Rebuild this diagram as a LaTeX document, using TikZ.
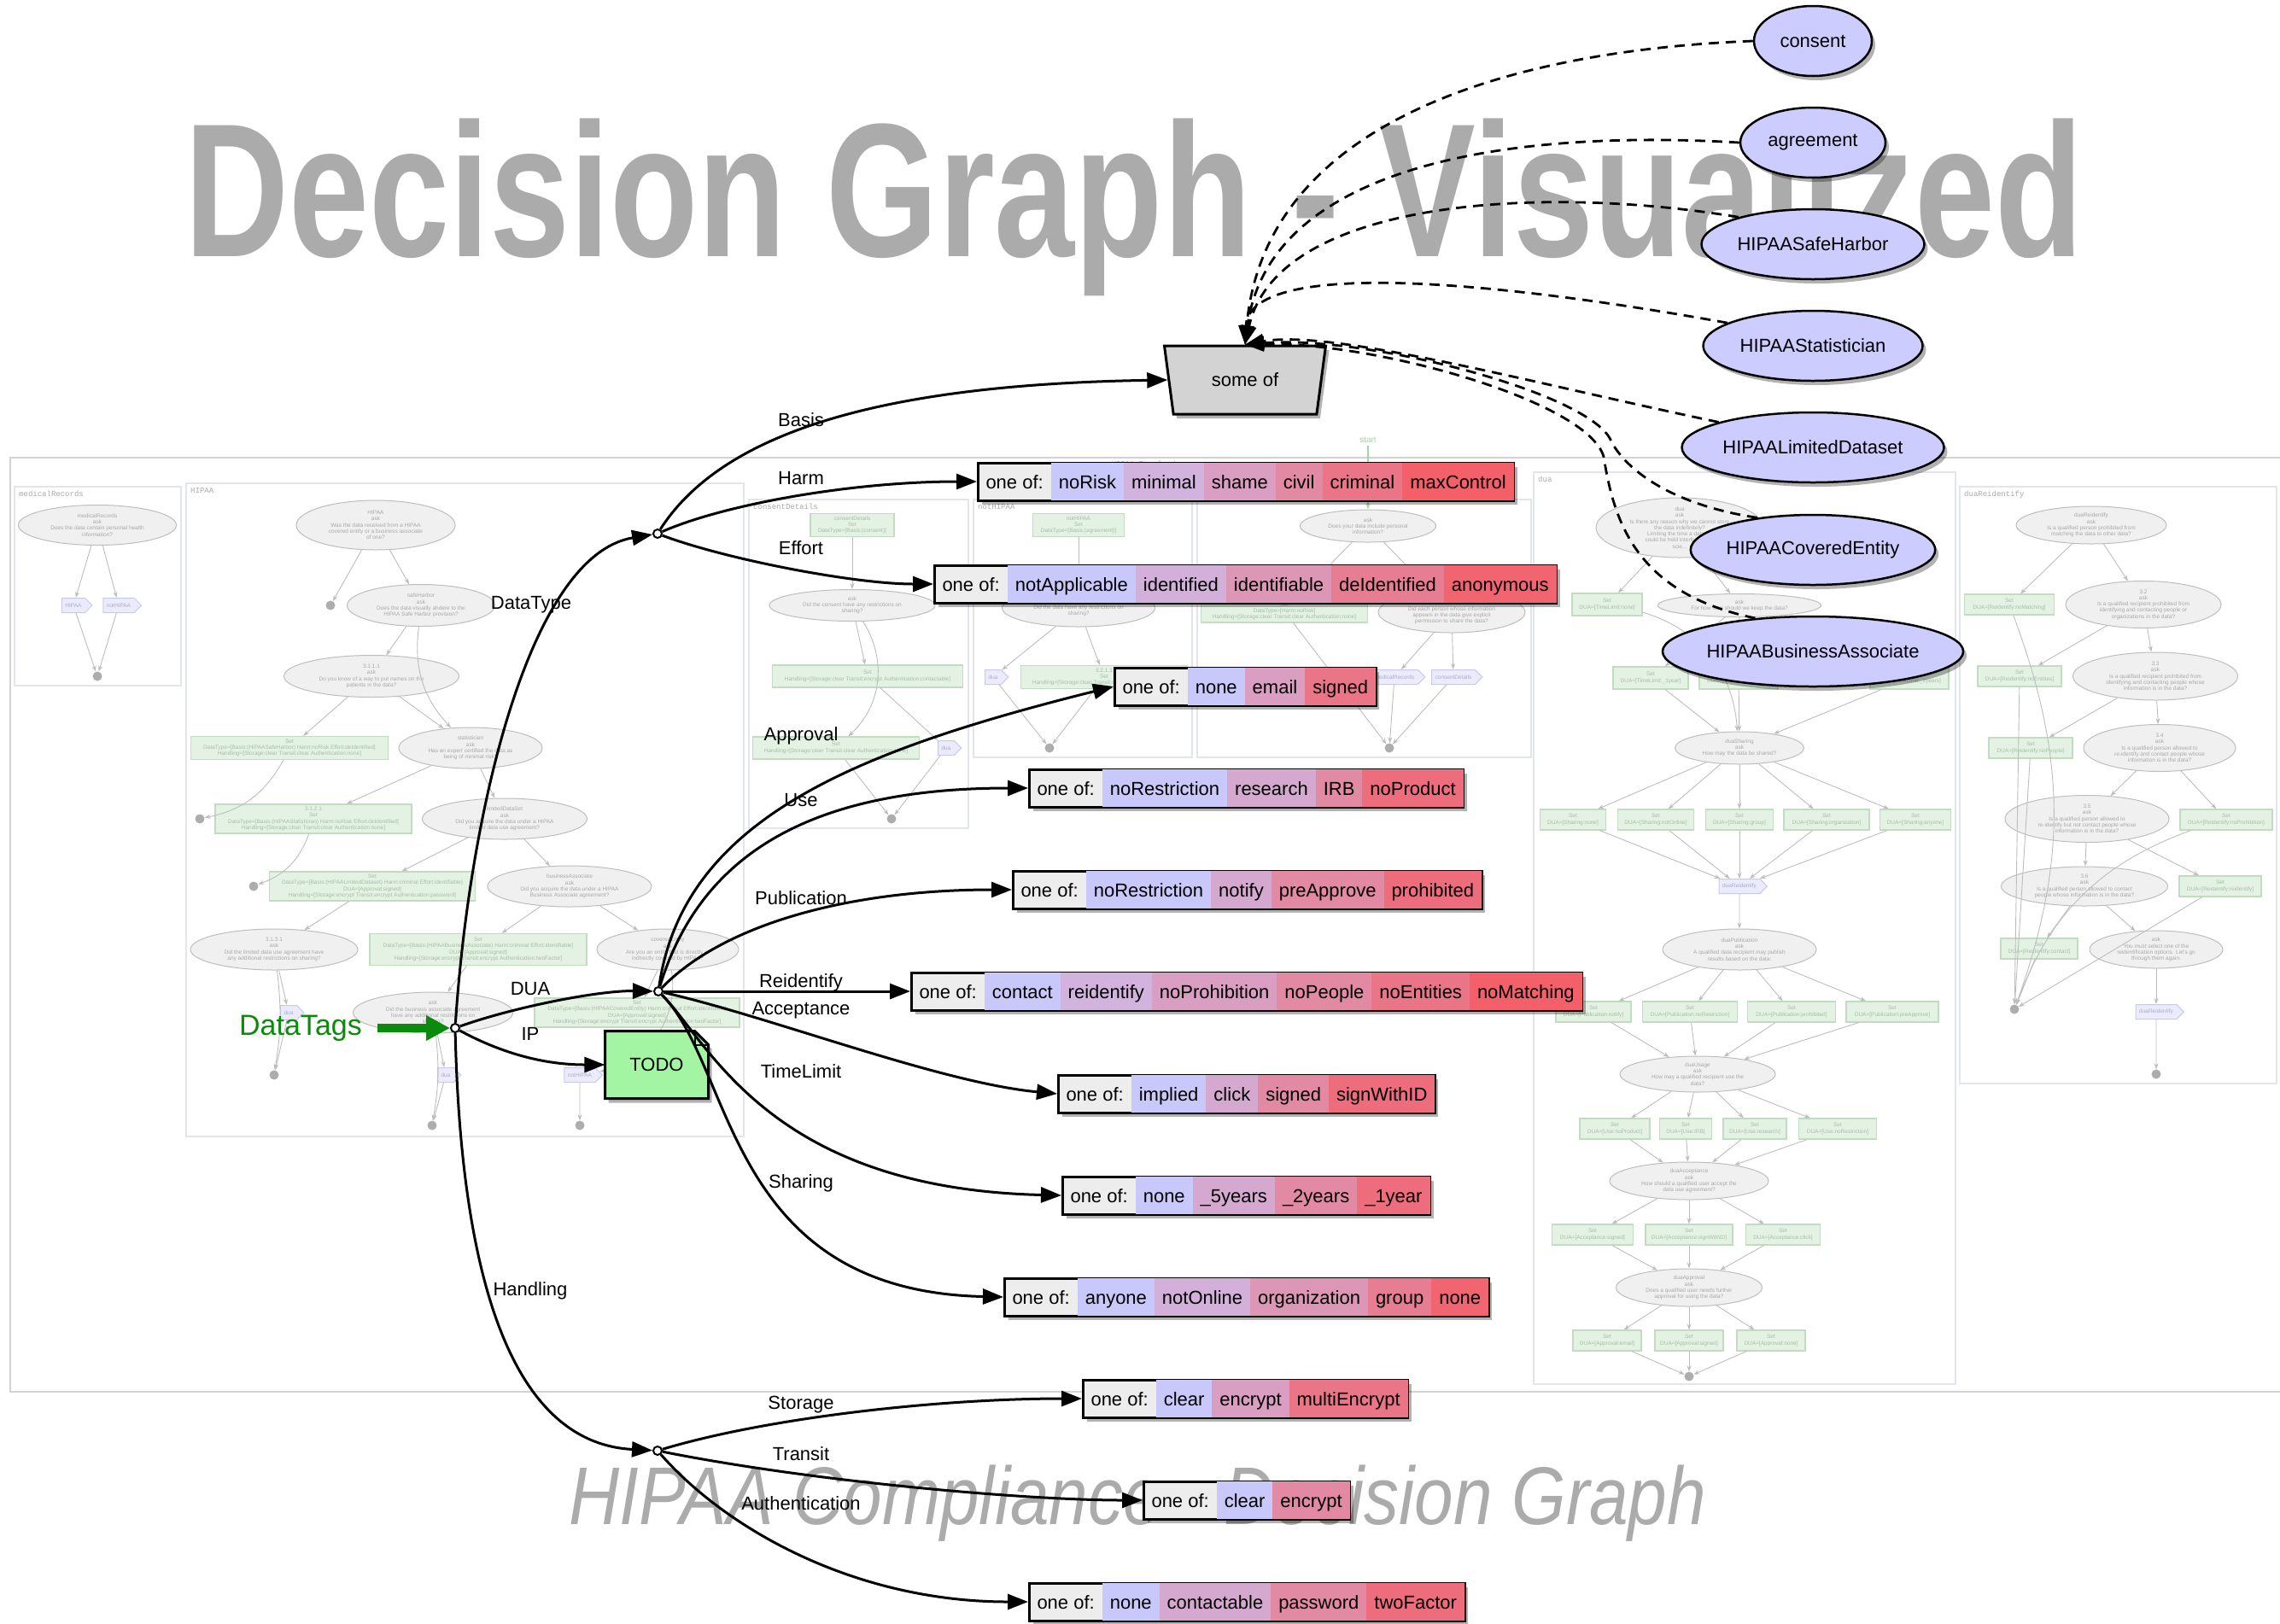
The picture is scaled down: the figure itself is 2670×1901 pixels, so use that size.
\documentclass[tikz,border=0pt]{standalone}
\usepackage{fontspec}
\usepackage{graphicx}
\setmainfont{Liberation Sans}
\setmonofont{Liberation Mono}
\usetikzlibrary{arrows.meta,shapes.geometric,shapes.symbols,shadows,calc}

% palette
\definecolor{cool}{HTML}{C8C8FA}
\definecolor{hot}{HTML}{F3606A}
\definecolor{oneof}{HTML}{EDEDED}
\definecolor{titlegray}{HTML}{ABABAB}
\definecolor{egg}{HTML}{CCCCFF}
\definecolor{someoffill}{HTML}{D3D3D3}
\definecolor{notegreen}{HTML}{A3F5A3}
\definecolor{tagsgreen}{HTML}{0B8A0B}
\definecolor{bgline}{HTML}{BDBDBD}
\definecolor{bgfill}{HTML}{F0F0F0}
\definecolor{bgtext}{HTML}{A9A9A9}
\definecolor{bgdot}{HTML}{ADADAD}
\definecolor{setfill}{HTML}{E4F2E4}
\definecolor{setline}{HTML}{C2DCC2}
\definecolor{settext}{HTML}{A6BEA6}
\definecolor{cdsfill}{HTML}{EBEBFB}
\definecolor{cdsline}{HTML}{C9C9EE}
\definecolor{cdstext}{HTML}{ABABD2}
\definecolor{frameline}{HTML}{E3E5EE}
\definecolor{outerline}{HTML}{D2D2D2}
\definecolor{startgreen}{HTML}{A2D6A2}

% record cells
\setlength{\fboxsep}{0pt}
\newcommand{\rcell}[2]{\colorbox{#1}{\rule[-14pt]{0pt}{44pt}\hspace{9pt}#2\hspace{9pt}}}
\newcommand{\ocell}{\rule[-14pt]{0pt}{44pt}\hspace{9pt}one of:\hspace{9pt}}

\tikzset{
  softshadow/.style={drop shadow={shadow xshift=4pt, shadow yshift=-5pt, opacity=0.3, fill=black}},
  rec/.style={draw, line width=3pt, inner sep=0pt, fill=oneof, anchor=west,
    font=\fontsize{22}{26}\selectfont, softshadow},
  eggnode/.style={ellipse, draw, line width=2.5pt, fill=egg, minimum height=82pt,
    inner sep=0pt, font=\fontsize{22}{26}\selectfont, softshadow},
  someofbox/.style={trapezium, trapezium angle=65, shape border rotate=180,
    trapezium stretches body, minimum width=189pt, minimum height=80pt, draw,
    line width=3pt, fill=someoffill, font=\fontsize{22}{26}\selectfont, softshadow},
  pt/.style={circle, draw, fill=white, line width=2pt, inner sep=0pt, minimum size=10pt},
  lbl/.style={font=\fontsize{22}{26}\selectfont, inner sep=1pt},
  fg/.style={line width=3pt, -{Triangle[length=24pt,width=18pt]}},
  dep/.style={line width=2.8pt, dash pattern=on 12pt off 8pt, -{Triangle[length=22pt,width=17pt]}},
  tagarrow/.style={draw=tagsgreen, line width=10pt, shorten <=16pt, -{Triangle[length=28pt,width=28pt]}},
  % faint background graph
  bgask/.style 2 args={ellipse, draw=bgline, line width=1pt, fill=bgfill, text=bgtext,
    font=\fontsize{6.5}{7.3}\selectfont, align=center, inner sep=0pt,
    minimum width=#1, minimum height=#2},
  bgset/.style 2 args={rectangle, draw=setline, line width=1.2pt, fill=setfill, text=settext,
    font=\fontsize{6.5}{7.3}\selectfont, align=center, inner sep=1pt,
    minimum width=#1, minimum height=#2},
  bgcds/.style={signal, signal to=east, draw=cdsline, line width=1pt, fill=cdsfill,
    text=cdstext, font=\fontsize{6.5}{7.3}\selectfont, inner xsep=4pt, inner ysep=3pt,
    minimum height=17pt},
  bgend/.style={circle, fill=bgdot, minimum size=11pt, inner sep=0pt},
  bge/.style={draw=bgline, line width=0.9pt, -{Stealth[length=7pt,width=5pt]}},
  bgframe/.style={draw=frameline, line width=1.2pt},
  bgname/.style={font=\ttfamily\fontsize{9}{10}\selectfont, text=bgtext, anchor=north west, inner sep=0pt},
}

\begin{document}
\begin{tikzpicture}[x=1pt,y=-1pt]
\useasboundingbox (0,0) rectangle (2670,1901);

%================ background: the compiled decision graph =================
\draw[draw=outerline, line width=2pt] (2672,536) -- (12,536) -- (12,1630) -- (2672,1630);
\draw[bgframe] (17,570) rectangle (212,803);
\draw[bgframe] (218,566) rectangle (871,1331);
\draw[bgframe] (877,585) rectangle (1134,970);
\draw[bgframe] (1140,585) rectangle (1396,887);
\draw[bgframe] (1402,585) rectangle (1793,887);
\draw[bgframe] (1796,553) rectangle (2290,1621);
\draw[bgframe] (2295,570) rectangle (2666,1269);

\node[bgname] (lMR) at (22,575) {medicalRecords};
\node[bgname] (lH) at (223,571) {HIPAA};
\node[bgname] (lCD) at (882,590) {consentDetails};
\node[bgname] (lNH) at (1145,590) {notHIPAA};
\node[bgname] (lDua) at (1801,558) {dua};
\node[bgname] (lDR) at (2300,575) {duaReidentify};
\node[font=\ttfamily\fontsize{9}{10}\selectfont, text=bgtext] (lSample) at (1342,544) {HIPAA-Sample.dg};

% medicalRecords
\node[bgask={185}{47}] (mrAsk) at (114,615) {medicalRecords\\ask\\Does the data contain personal health\\information?};
\node[bgcds] (mrH) at (86,709) {HIPAA};
\node[bgcds] (mrN) at (139,709) {notHIPAA};
\node[bgend] (mrEnd) at (114,792) {};

% HIPAA
\node[bgask={186}{58}] (hAsk) at (440,615) {HIPAA\\ask\\Was the data received from a HIPAA\\covered entity or a business associate\\of one?};
\node[bgend] (hE1) at (387,709) {};
\node[bgask={173}{49}] (hSafe) at (493,709) {safeHarbor\\ask\\Does the data visually ahdere to the\\HIPAA Safe Harbor provision?};
\node[bgask={205}{49}] (h3111) at (435,792) {3.1.1.1\\ask\\Do you know of a way to put names on the\\patients in the data?};
\node[bgset={231}{27}] (hSetSH) at (339,876) {Set\\DataType=[Basis:(HIPAASafeHarbor) Harm:noRisk Effort:deIdentified]\\Handling=[Storage:clear Transit:clear Authentication:none]};
\node[bgask={168}{48}] (hStat) at (551,876) {statistician\\ask\\Has an expert certified the data as\\being of minimal risk?};
\node[bgend] (hE2) at (234,959) {};
\node[bgset={230}{34}] (hSet3121) at (367,959) {3.1.2.1\\Set\\DataType=[Basis:(HIPAAStatistician) Harm:noRisk Effort:deIdentified]\\Handling=[Storage:clear Transit:clear Authentication:none]};
\node[bgask={193}{48}] (hLim) at (591,959) {limitedDataSet\\ask\\Did you acquire the data under a HIPAA\\limited data use agreement?};
\node[bgend] (hE3) at (297,1038) {};
\node[bgset={241}{34}] (hSetLim) at (436,1038) {Set\\DataType=[Basis:(HIPAALimitedDataset) Harm:criminal Effort:identifiable]\\DUA=[Approval:signed]\\Handling=[Storage:encrypt Transit:encrypt Authentication:password]};
\node[bgask={192}{48}] (hBA) at (667,1038) {businessAssociate\\ask\\Did you acquire the data under a HIPAA\\Business Associate agreement?};
\node[bgask={196}{48}] (h3131) at (321,1112) {3.1.3.1\\ask\\Did the limited data use agreement have\\any additional restrictions on sharing?};
\node[bgset={254}{37}] (hSetBA) at (560,1112) {Set\\DataType=[Basis:(HIPAABusinessAssociate) Harm:criminal Effort:identifiable]\\DUA=[Approval:signed]\\Handling=[Storage:encrypt Transit:encrypt Authentication:twoFactor]};
\node[bgask={166}{48}] (hCE) at (782,1112) {coveredEntity\\ask\\Are you an entity that is directly or\\indirectly covered by HIPAA?};
\node[bgcds] (hDua1) at (338,1186) {dua};
\node[bgask={187}{48}] (hAskBA) at (507,1186) {ask\\Did the business associate agreement\\have any additional restrictions on\\sharing?};
\node[bgset={240}{34}] (hSetCE) at (746,1186) {Set\\DataType=[Basis:(HIPAACoveredEntity) Harm:criminal Effort:identifiable]\\DUA=[Approval:signed]\\Handling=[Storage:encrypt Transit:encrypt Authentication:twoFactor]};
\node[bgend] (hE4) at (321,1259) {};
\node[bgcds] (hDua2) at (522,1259) {dua};
\node[bgcds] (hNot) at (679,1259) {notHIPAA};
\node[bgend] (hE5) at (506,1318) {};
\node[bgend] (hE6) at (679,1318) {};

% consentDetails
\node[bgset={98}{27}] (cSet) at (998,615) {consentDetails\\Set\\DataType=[Basis:(consent)]};
\node[bgask={194}{37}] (cAsk) at (998,709) {ask\\Did the consent have any restrictions on\\sharing?};
\node[bgset={223}{26}] (cSetH1) at (1016,792) {Set\\Handling=[Storage:clear Transit:encrypt Authentication:contactable]};
\node[bgset={195}{26}] (cSetH2) at (979,876) {Set\\Handling=[Storage:clear Transit:clear Authentication:none]};
\node[bgcds] (cDua) at (1108,876) {dua};
\node[bgend] (cEnd) at (1044,959) {};

% notHIPAA
\node[bgset={107}{27}] (nSet) at (1263,615) {notHIPAA\\Set\\DataType=[Basis:(agreement)]};
\node[bgask={179}{44}] (nAsk) at (1263,712) {ask\\Did the data have any restrictions on\\sharing?};
\node[bgcds] (nDua) at (1163,793) {dua};
\node[bgset={195}{27}] (nSet3211) at (1293,793) {3.2.1.1\\Set\\Handling=[Storage:clear Transit:clear Authentication:none]};
\node[bgend] (nEnd) at (1229,876) {};

% entry point
\node[text=startgreen, font=\fontsize{10}{12}\selectfont] (startLbl) at (1602,515) {start};
\node[bgask={159}{38}] (sAsk) at (1602,616) {ask\\Does your data include personal\\information?};
\node[bgset={195}{26}] (sSet) at (1504,716) {Set\\DataType=[Harm:noRisk]\\Handling=[Storage:clear Transit:clear Authentication:none]};
\node[bgask={172}{48}] (sAsk2) at (1700,717) {ask\\Did each person whose information\\appears in the data give explicit\\permission to share the data?};
\node[bgcds] (sMR) at (1633,793) {medicalRecords};
\node[bgcds] (sCD) at (1702,793) {consentDetails};
\node[bgend] (sEnd) at (1627,876) {};

% dua
\node[bgask={196}{70}] (dAsk) at (1967,618) {dua\\ask\\Is there any reason why we cannot store\\the data indefinitely?\\Limiting the time a dataset\\could be held interferes with\\scie...};
\node[bgset={82}{26}] (dSetNone) at (1882,708) {Set\\DUA=[TimeLimit:none]};
\node[bgask={191}{27}] (dAskTime) at (2037,709) {ask\\For how long should we keep the data?};
\node[bgset={88}{26}] (dT1) at (1933,794) {Set\\DUA=[TimeLimit:\_1year]};
\node[bgset={92}{26}] (dT2) at (2036,794) {Set\\DUA=[TimeLimit:\_5years]};
\node[bgset={92}{26}] (dT3) at (2236,794) {Set\\DUA=[TimeLimit:\_2years]};
\node[bgask={151}{38}] (dSharing) at (2037,876) {duaSharing\\ask\\How may the data be shared?};
\node[bgset={77}{24}] (dS1) at (1842,960) {Set\\DUA=[Sharing:none]};
\node[bgset={89}{24}] (dS2) at (1939,960) {Set\\DUA=[Sharing:notOnline]};
\node[bgset={79}{24}] (dS3) at (2037,960) {Set\\DUA=[Sharing:group]};
\node[bgset={100}{24}] (dS4) at (2139,960) {Set\\DUA=[Sharing:organization]};
\node[bgset={83}{24}] (dS5) at (2243,960) {Set\\DUA=[Sharing:anyone]};
\node[bgcds] (dReid) at (2037,1038) {duaReidentify};
\node[bgask={180}{48}] (dPub) at (2037,1112) {duaPublication\\ask\\A qualified data recipient may publish\\results based on the data:};
\node[bgset={88}{24}] (dP1) at (1866,1185) {Set\\DUA=[Publication:notify]};
\node[bgset={111}{24}] (dP2) at (1979,1185) {Set\\DUA=[Publication:noRestriction]};
\node[bgset={103}{24}] (dP3) at (2098,1185) {Set\\DUA=[Publication:prohibited]};
\node[bgset={108}{24}] (dP4) at (2216,1185) {Set\\DUA=[Publication:preApprove]};
\node[bgask={182}{42}] (dUsage) at (1988,1258) {duaUsage\\ask\\How may a qualified recipient use the\\data?};
\node[bgset={82}{24}] (dU1) at (1891,1322) {Set\\DUA=[Use:noProduct]};
\node[bgset={61}{24}] (dU2) at (1974,1322) {Set\\DUA=[Use:IRB]};
\node[bgset={74}{24}] (dU3) at (2055,1322) {Set\\DUA=[Use:research]};
\node[bgset={91}{24}] (dU4) at (2152,1322) {Set\\DUA=[Use:noRestriction]};
\node[bgask={186}{44}] (dAcc) at (1978,1383) {duaAcceptance\\ask\\How should a qualified user accept the\\data use agreement?};
\node[bgset={95}{24}] (dA1) at (1865,1446) {Set\\DUA=[Acceptance:signed]};
\node[bgset={102}{24}] (dA2) at (1978,1446) {Set\\DUA=[Acceptance:signWithID]};
\node[bgset={87}{24}] (dA3) at (2088,1446) {Set\\DUA=[Acceptance:click]};
\node[bgask={171}{44}] (dAppr) at (1978,1508) {duaApproval\\ask\\Does a qualified user needs further\\approval for using the data?};
\node[bgset={80}{24}] (dAp1) at (1882,1570) {Set\\DUA=[Approval:email]};
\node[bgset={80}{24}] (dAp2) at (1978,1570) {Set\\DUA=[Approval:signed]};
\node[bgset={80}{24}] (dAp3) at (2074,1570) {Set\\DUA=[Approval:none]};
\node[bgend] (dEnd) at (1978,1612) {};

% duaReidentify
\node[bgask={176}{44}] (rAsk) at (2449,615) {duaReidentify\\ask\\Is a qualified person prohibited from\\matching the data to other data?};
\node[bgset={105}{24}] (rNoMatch) at (2353,708) {Set\\DUA=[Reidentify:noMatching]};
\node[bgask={182}{55}] (r32) at (2510,708) {3.2\\ask\\Is a qualified recipient prohibited from\\identifying and contacting people or\\organizations in the data?};
\node[bgset={98}{24}] (rNoEnt) at (2365,792) {Set\\DUA=[Reidentify:noEntities]};
\node[bgask={193}{56}] (r33) at (2524,792) {3.3\\ask\\Is a qualified recipient prohibited from\\identifying and contacting people whose\\information is in the data?};
\node[bgset={98}{24}] (rNoPeople) at (2378,876) {Set\\DUA=[Reidentify:noPeople]};
\node[bgask={178}{55}] (r34) at (2529,876) {3.4\\ask\\Is a qualified person allowed to\\re-identify and contact people whose\\information is in the data?};
\node[bgask={192}{55}] (r35) at (2444,959) {3.5\\ask\\Is a qualified person allowed to\\re-identify but not contact people whose\\information is in the data?};
\node[bgset={108}{24}] (rNoProh) at (2607,960) {Set\\DUA=[Reidentify:noProhibition]};
\node[bgask={195}{46}] (r36) at (2441,1038) {3.6\\ask\\Is a qualified person allowed to contact\\people whose information is in the data?};
\node[bgset={96}{24}] (rReid) at (2600,1038) {Set\\DUA=[Reidentify:reidentify]};
\node[bgset={90}{24}] (rContact) at (2388,1111) {Set\\DUA=[Reidentify:contact]};
\node[bgask={156}{44}] (rSelect) at (2525,1112) {ask\\You must select one of the\\reidentification options. Let's go\\through them again.};
\node[bgend] (rEnd1) at (2359,1182) {};
\node[bgcds] (rDua) at (2525,1185) {duaReidentify};
\node[bgend] (rEnd2) at (2525,1258) {};

% background connectors
\foreach \a/\b in {mrAsk/mrH, mrAsk/mrN, mrH/mrEnd, mrN/mrEnd,
  hAsk/hE1, hAsk/hSafe, hSafe/h3111, h3111/hSetSH, h3111/hStat, hStat/hSet3121,
  hStat/hLim, hLim/hSetLim, hLim/hBA, hSetLim/h3131, hBA/hSetBA, hBA/hCE,
  h3131/hDua1, hDua1/hE4, hSetBA/hAskBA, hCE/hSetCE, hAskBA/hDua2, hDua2/hE5, hNot/hE6,
  cSet/cAsk, cAsk/cSetH1, cSetH1/cDua, cSetH2/cEnd, cDua/cEnd,
  nSet/nAsk, nAsk/nDua, nAsk/nSet3211, nDua/nEnd, nSet3211/nEnd,
  sAsk/sSet, sAsk/sAsk2, sAsk2/sMR, sAsk2/sCD, sSet/sEnd, sMR/sEnd, sCD/sEnd,
  dAsk/dSetNone, dAsk/dAskTime, dAskTime/dT1, dAskTime/dT2, dAskTime/dT3,
  dT1/dSharing, dT2/dSharing, dT3/dSharing,
  dSharing/dS1, dSharing/dS2, dSharing/dS3, dSharing/dS4, dSharing/dS5,
  dS1/dReid, dS2/dReid, dS3/dReid, dS4/dReid, dS5/dReid, dReid/dPub,
  dPub/dP1, dPub/dP2, dPub/dP3, dPub/dP4, dP1/dUsage, dP2/dUsage, dP3/dUsage, dP4/dUsage,
  dUsage/dU1, dUsage/dU2, dUsage/dU3, dUsage/dU4, dU1/dAcc, dU2/dAcc, dU3/dAcc, dU4/dAcc,
  dAcc/dA1, dAcc/dA2, dAcc/dA3, dA1/dAppr, dA2/dAppr, dA3/dAppr,
  dAppr/dAp1, dAppr/dAp2, dAppr/dAp3, dAp1/dEnd, dAp2/dEnd, dAp3/dEnd,
  rAsk/rNoMatch, rAsk/r32, r32/rNoEnt, r32/r33, r33/rNoPeople, r33/r34, r34/r35,
  r34/rNoProh, r35/r36, r35/rReid, r36/rContact, r36/rSelect, rSelect/rDua, rDua/rEnd2,
  rNoEnt/rEnd1, rNoPeople/rEnd1, rContact/rEnd1, rReid/rEnd1}
  \draw[bge] (\a) -- (\b);
\draw[bge] (hSafe) to[bend right=25] (hStat);
\draw[bge] (hSetSH) to[bend left=25] (hE2);
\draw[bge] (hSet3121) to[bend left=25] (hE3);
\draw[bge] (h3131) to[bend left=8] (hE4);
\draw[bge] (hAskBA) to[bend left=8] (hE5);
\draw[bge] (hCE) to[bend left=45] (hNot);
\draw[bge] (cAsk) to[bend left=40] (cSetH2);
\draw[bge] (dSetNone) to[bend left=35] (dSharing);
\draw[bge] (rNoMatch) to[bend left=20] (rEnd1);
\draw[bge] (rNoProh) to[bend right=25] (rEnd1);
\draw[draw=startgreen, line width=1.5pt, -{Stealth[length=7pt,width=5pt]}] (startLbl) -- (sAsk);

%================ titles =================
\node[anchor=base west, text=titlegray, inner sep=0pt, font=\bfseries\fontsize{223}{223}\selectfont] (title) at (216,300) {\scalebox{0.758}[1]{Decision Graph - Visualized}};
\node[anchor=base west, text=titlegray, inner sep=0pt, font=\itshape\fontsize{96}{96}\selectfont] (subtitle) at (666,1785) {\scalebox{0.853}[1]{HIPAA Compliance - Decision Graph}};

%================ value types =================
\node[eggnode, minimum width=138pt] (consent) at (2123,48) {consent};
\node[eggnode, minimum width=170pt] (agreement) at (2123,167) {agreement};
\node[eggnode, minimum width=261pt] (safeharbor) at (2123,286) {HIPAASafeHarbor};
\node[eggnode, minimum width=257pt] (statistician) at (2123,405) {HIPAAStatistician};
\node[eggnode, minimum width=307pt] (limited) at (2123,524) {HIPAALimitedDataset};
\node[eggnode, minimum width=269pt] (covered) at (2123,644) {HIPAACoveredEntity};
\node[eggnode, minimum width=351pt] (business) at (2123,763) {HIPAABusinessAssociate};

\node[someofbox] (someof) at (1458,445) {some of};

\draw[dep] (consent.west) .. controls (1750,60) and (1480,150) .. (someof.north);
\draw[dep] (agreement.west) .. controls (1750,150) and (1485,200) .. (someof.north);
\draw[dep] (safeharbor.160) .. controls (1800,215) and (1495,235) .. (someof.north);
\draw[dep] (statistician.165) .. controls (1700,320) and (1462,310) .. (someof.north);
\draw[dep] (limited.165) .. controls (1800,450) and (1560,385) .. (someof.north);
\draw[dep] (covered.150) .. controls (1950,590) and (1900,545) .. (1886,515) .. controls (1860,460) and (1600,392) .. (someof.north);
\draw[dep] (business.150) .. controls (1915,695) and (1890,610) .. (1878,535) .. controls (1860,470) and (1610,400) .. (someof.north);

%================ enumerated values =================
\node[rec] (rHarm) at (1144,564) {\ocell\rcell{cool}{noRisk}\rcell{hot!20!cool}{minimal}\rcell{hot!40!cool}{shame}\rcell{hot!60!cool}{civil}\rcell{hot!80!cool}{criminal}\rcell{hot}{maxControl}};
\node[rec] (rEffort) at (1093,684) {\ocell\rcell{cool}{notApplicable}\rcell{hot!23!cool}{identified}\rcell{hot!47!cool}{identifiable}\rcell{hot!72!cool}{deIdentified}\rcell{hot!95!cool}{anonymous}};
\node[rec] (rApproval) at (1304,804) {\ocell\rcell{cool}{none}\rcell{hot!40!cool}{email}\rcell{hot!80!cool}{signed}};
\node[rec] (rUse) at (1204,923) {\ocell\rcell{cool}{noRestriction}\rcell{hot!30!cool}{research}\rcell{hot!60!cool}{IRB}\rcell{hot!87!cool}{noProduct}};
\node[rec] (rPub) at (1185,1042) {\ocell\rcell{cool}{noRestriction}\rcell{hot!30!cool}{notify}\rcell{hot!60!cool}{preApprove}\rcell{hot!87!cool}{prohibited}};
\node[rec] (rReid) at (1066,1161) {\ocell\rcell{cool}{contact}\rcell{hot!20!cool}{reidentify}\rcell{hot!40!cool}{noProhibition}\rcell{hot!60!cool}{noPeople}\rcell{hot!80!cool}{noEntities}\rcell{hot}{noMatching}};
\node[rec] (rAcc) at (1238,1281) {\ocell\rcell{cool}{implied}\rcell{hot!30!cool}{click}\rcell{hot!60!cool}{signed}\rcell{hot!87!cool}{signWithID}};
\node[rec] (rTime) at (1243,1400) {\ocell\rcell{cool}{none}\rcell{hot!30!cool}{\_5years}\rcell{hot!60!cool}{\_2years}\rcell{hot!87!cool}{\_1year}};
\node[rec] (rShare) at (1175,1519) {\ocell\rcell{cool}{anyone}\rcell{hot!23!cool}{notOnline}\rcell{hot!47!cool}{organization}\rcell{hot!72!cool}{group}\rcell{hot!95!cool}{none}};
\node[rec] (rStore) at (1267,1638) {\ocell\rcell{cool}{clear}\rcell{hot!40!cool}{encrypt}\rcell{hot!80!cool}{multiEncrypt}};
\node[rec] (rTransit) at (1338,1757) {\ocell\rcell{cool}{clear}\rcell{hot!60!cool}{encrypt}};
\node[rec] (rAuth) at (1204,1876) {\ocell\rcell{cool}{none}\rcell{hot!30!cool}{contactable}\rcell{hot!60!cool}{password}\rcell{hot!87!cool}{twoFactor}};

%================ compound slots =================
\node[pt] (root) at (533,1204) {};
\node[pt] (ptType) at (770,625) {};
\node[pt] (ptDua) at (771,1161) {};
\node[pt] (ptHand) at (770,1699) {};

% TODO note
\filldraw[fill=notegreen, line width=3pt, softshadow] (708.5,1207.5) -- (813.5,1207.5) -- (829.5,1223.5) -- (829.5,1286.5) -- (708.5,1286.5) -- cycle;
\draw[line width=2pt] (813.5,1207.5) -- (813.5,1223.5) -- (829.5,1223.5);
\node[minimum width=121pt, minimum height=79pt, inner sep=0pt, font=\fontsize{22}{26}\selectfont] (todo) at (769,1247) {TODO};

\node[text=tagsgreen, font=\fontsize{34}{40}\selectfont, inner sep=2pt] (datatags) at (352,1204) {DataTags};
\draw[tagarrow] (datatags) -- (root);

% slots of the root
\draw[fg] (root) .. controls (550,950) and (620,650) .. (ptType);
\draw[fg] (root) .. controls (600,1180) and (700,1160) .. (ptDua);
\draw[fg] (root) .. controls (590,1235) and (640,1247) .. (todo.west);
\draw[fg] (root) .. controls (540,1500) and (600,1690) .. (ptHand);

% DataType
\draw[fg] (ptType) .. controls (850,500) and (1050,450) .. (someof.west);
\draw[fg] (ptType) .. controls (850,590) and (1000,564) .. (rHarm.west);
\draw[fg] (ptType) .. controls (850,655) and (1000,684) .. (rEffort.west);

% DUA
\draw[fg] (ptDua) .. controls (800,960) and (1000,880) .. (rApproval.west);
\draw[fg] (ptDua) .. controls (820,1000) and (950,923) .. (rUse.west);
\draw[fg] (ptDua) .. controls (850,1080) and (1000,1042) .. (rPub.west);
\draw[fg] (ptDua) -- (rReid.west);
\draw[fg] (ptDua) .. controls (900,1190) and (1100,1268) .. (rAcc.west);
\draw[fg] (ptDua) .. controls (830,1220) and (900,1392) .. (rTime.west);
\draw[fg] (ptDua) .. controls (860,1250) and (850,1512) .. (rShare.west);

% Handling
\draw[fg] (ptHand) .. controls (900,1660) and (1100,1638) .. (rStore.west);
\draw[fg] (ptHand) .. controls (950,1735) and (1200,1757) .. (rTransit.west);
\draw[fg] (ptHand) .. controls (850,1790) and (1000,1876) .. (rAuth.west);

% slot names
\node[lbl] (lBasis) at (938,492) {Basis};
\node[lbl] (lHarm) at (938,560) {Harm};
\node[lbl] (lEffort) at (938,642) {Effort};
\node[lbl] (lDataType) at (622,708) {DataType};
\node[lbl] (lApproval) at (938,862) {Approval};
\node[lbl] (lUse) at (938,937) {Use};
\node[lbl] (lPub) at (938,1052) {Publication};
\node[lbl] (lReid) at (938,1151) {Reidentify};
\node[lbl] (lDUA) at (621,1158) {DUA};
\node[lbl] (lAcc) at (938,1183) {Acceptance};
\node[lbl] (lIP) at (621,1211) {IP};
\node[lbl] (lTime) at (938,1255) {TimeLimit};
\node[lbl] (lShare) at (938,1386) {Sharing};
\node[lbl] (lHand) at (621,1512) {Handling};
\node[lbl] (lStore) at (938,1645) {Storage};
\node[lbl] (lTransit) at (938,1703) {Transit};
\node[lbl] (lAuth) at (938,1761) {Authentication};

\end{tikzpicture}
\end{document}
